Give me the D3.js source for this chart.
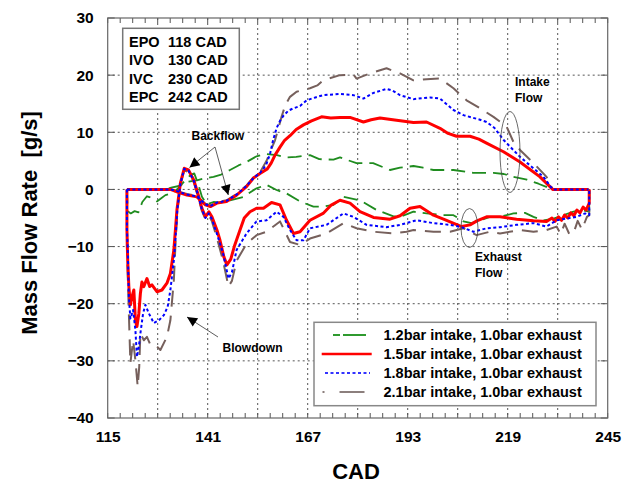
<!DOCTYPE html>
<html>
<head>
<meta charset="utf-8">
<script src="https://cdn.jsdelivr.net/npm/d3@7"></script>
<style>
  body { margin: 0; background: #fff; }
  text { font-family: "Liberation Sans", Arial, sans-serif; font-weight: bold; fill: #000; }
</style>
</head>
<body>
<div id="chart"></div>
<script>
// axis ticks
var xLabels = [115, 141, 167, 193, 219, 245];
var xGrid = [128, 141, 154, 167, 180, 193, 206, 219, 232];
var yLabels = [-40, -30, -20, -10, 0, 10, 20, 30];
var valveTimes = [["EPO", "118 CAD"], ["IVO", "130 CAD"], ["IVC", "230 CAD"], ["EPC", "242 CAD"]];
var seriesNames = ["1.2bar intake, 1.0bar exhaust", "1.5bar intake, 1.0bar exhaust",
                   "1.8bar intake, 1.0bar exhaust", "2.1bar intake, 1.0bar exhaust"];

// [CAD, g/s] intake branches
var intake12 = [[120,0],[130,0],[131.5,0.3],[133.5,0.6],[135.6,1.3],[138.2,1.6],[140,1.9],[142.5,2.2],[144.5,2.6],[146.8,3.4],[149,4.2],[151.1,4.8],[153.7,5.8],[156.3,6.2],[159,6.0],[161.5,5.6],[164,5.7],[167.6,6.0],[170,5.3],[173.7,5.2],[175.4,5.6],[177.5,5.1],[179.7,4.6],[184,4.6],[188.4,3.4],[191,3.8],[194.5,4.1],[197,3.8],[199.7,3.4],[204.9,3.4],[210,2.9],[215.3,2.9],[218,2.7],[220.5,2.2],[224,1.7],[227,1.0],[230.7,0],[240,0]];
var intake15 = [[120,0],[131.3,0],[133,-0.4],[135.6,-1.0],[138.2,-1.3],[140.4,-2.7],[141.7,-3.0],[143.4,-2.4],[145.9,-2.1],[148.5,-1.0],[151.1,0.5],[152.9,2.0],[154.6,2.8],[156.5,3.6],[157.5,4.6],[158.5,6.0],[159.8,7.4],[161,8.6],[162.4,9.4],[164,10.5],[165.9,11.3],[168,12.0],[170.6,12.7],[173,12.5],[175.4,12.6],[178,12.6],[181.5,11.8],[183.5,12.2],[185.8,12.5],[190.1,12.1],[194.5,11.7],[197.9,11.8],[201.4,10.7],[203.5,9.8],[205.7,9.3],[209.2,9.3],[211.5,8.8],[213.5,8.1],[217.9,6.6],[222.2,4.8],[227.4,2.2],[230.7,0],[240,0]];
var intake18 = [[120,0],[131.3,0],[133,-0.3],[135.6,-0.9],[138.2,-1.2],[140.4,-2.6],[141.7,-2.9],[143.4,-2.3],[145.9,-2.0],[148.5,-0.9],[151.1,0.6],[152.9,2.0],[154.6,2.9],[155.5,3.6],[156.3,4.5],[157.2,6.2],[158,8.6],[158.9,10.7],[159.8,12.0],[160.7,12.9],[162,13.8],[163.3,14.2],[165,14.6],[166.7,15.6],[169,16.1],[171,16.5],[175.4,16.7],[178.9,16.5],[181.5,15.9],[184.1,16.9],[187.5,17.6],[189,17.3],[191,16.5],[194.5,15.8],[198.8,16.1],[201.4,15.9],[204.9,13.9],[207.5,13.0],[211.8,12.2],[213.5,11.8],[215.5,10.8],[218,8.6],[222.2,5.7],[228.3,2.2],[230.7,0],[240,0]];
var intake21 = [[120,0],[131.3,0],[133,-0.3],[135.6,-0.8],[138.2,-1.1],[140.4,-2.5],[141.7,-2.8],[143.4,-2.2],[145.9,-1.9],[148.5,-0.8],[151.1,0.7],[152.9,2.1],[154.6,3.0],[156.3,5.0],[157.5,7.0],[158.5,8.6],[160.2,12.7],[161.2,14.8],[162.4,16.2],[164.1,17.1],[167.6,17.7],[169.5,18.2],[171,19.1],[175.4,20.0],[178.9,20.1],[179.7,19.4],[183.2,20.3],[187.5,21.2],[191,20.3],[194.5,19.1],[197.9,19.3],[201.4,19.4],[204.9,17.7],[208.3,15.6],[211.8,14.2],[215.3,12.7],[218.7,11.0],[220.5,8.3],[222.2,6.9],[225.7,4.6],[229.1,2.2],[230.7,0],[240,0]];

// [CAD, g/s] exhaust branches
var exhaust12 = [[120,0],[120.2,-3.8],[121,-4.2],[122,-3.8],[123,-4.0],[124,-2.2],[125.2,-1.2],[126.5,-1.5],[127.8,-2.1],[129,-1.5],[130,-1.0],[132,-0.6],[133.5,0.3],[135,1.5],[136.5,2.5],[137.5,2.8],[138.5,1.0],[139.5,-1.3],[140.8,-2.6],[142.5,-2.2],[144.5,-2.3],[146.8,-1.9],[150.3,-1.3],[153.7,0.2],[156.3,0.8],[158.9,-0.1],[161.5,-0.7],[165,-2.1],[168.5,-3.0],[171,-3.0],[173.7,-2.7],[176.3,-1.3],[180.6,-1.9],[184.9,-3.6],[189.3,-4.7],[191,-4.8],[194.5,-3.9],[197.9,-4.2],[202.3,-4.5],[204.9,-4.5],[207.5,-5.6],[209.6,-5.9],[211.8,-5.4],[214.4,-4.8],[217,-4.8],[220.5,-4.2],[223.5,-4.1],[225.7,-4.8],[228.3,-5.4],[230.9,-5.1],[233.5,-4.5],[236.1,-3.9],[238.3,-3.6],[240.2,-3.9],[240.2,0]];
var exhaust15 = [[120,0],[120,-7],[120.2,-12.4],[120.5,-17],[120.9,-20.2],[121.3,-18.8],[121.8,-17.6],[122.2,-22.9],[122.6,-24.0],[123.1,-21.7],[123.5,-18.2],[123.9,-16.2],[124.4,-17.0],[125.2,-15.6],[125.9,-17.0],[126.5,-16.7],[127.8,-17.9],[129.1,-17.6],[130.4,-16.4],[131.3,-14.7],[132.2,-10.6],[132.6,-7.1],[133,-3.6],[133.9,1.1],[134.9,3.7],[136,3.4],[137.4,1.6],[138.7,-1.3],[139.5,-3.3],[140.4,-4.8],[141.3,-3.9],[142.1,-4.8],[143.4,-7.1],[144.2,-8.9],[145.2,-11.8],[146,-13.2],[147,-12.2],[148,-9.8],[149.4,-7.1],[150.5,-5.0],[152,-3.9],[153.7,-3.3],[155.5,-3.3],[157.6,-2.3],[159.8,-2.7],[161.5,-5.4],[163.3,-7.7],[165,-7.4],[167.6,-5.4],[171,-4.2],[173,-2.8],[175.4,-1.9],[178,-2.4],[180.6,-3.9],[184.1,-4.9],[188.4,-5.2],[191,-4.6],[193.6,-3.3],[196.2,-3.0],[199.7,-4.5],[203.1,-5.4],[207,-6.5],[209.2,-6.2],[211,-5.5],[213.5,-4.8],[217,-4.8],[221.3,-5.2],[225.7,-5.5],[229.1,-5.6],[230.5,-5.0],[231.3,-5.6],[232.2,-4.8],[233,-5.4],[233.8,-4.5],[234.6,-5.0],[235.4,-4.1],[236.2,-4.6],[237,-3.6],[237.8,-4.1],[238.6,-3.1],[239.4,-3.6],[240.2,-2.4],[240.2,0]];
var exhaust18 = [[120,0],[120,-7],[120.2,-10],[120.5,-18.8],[120.9,-22.6],[121.6,-21.1],[122.2,-24.6],[122.6,-29.3],[123.1,-27.5],[123.5,-25.2],[124.2,-21.7],[124.8,-20.2],[125.7,-21.7],[127,-23.4],[128.3,-22.9],[129.6,-22.0],[130.6,-20.5],[131.3,-17.6],[132.2,-12.4],[132.6,-8.9],[133.1,-3.6],[133.9,1.0],[134.9,3.6],[136,3.3],[137.4,1.5],[138.7,-1.5],[139.5,-3.5],[140.4,-5.0],[141.3,-4.2],[142.1,-5.2],[143.4,-7.8],[145,-11.2],[146.4,-15.6],[147.3,-14.5],[148.5,-10.6],[151.1,-7.7],[153.7,-5.6],[156.3,-5.4],[158.9,-3.9],[160.7,-4.8],[162.4,-7.1],[164.1,-8.9],[165.9,-8.9],[167.6,-6.8],[171.9,-6.2],[176.3,-4.2],[178.9,-4.8],[182.3,-6.2],[187.5,-6.6],[191,-6.2],[195.3,-5.4],[199.7,-5.9],[204,-6.2],[207,-6.6],[210.1,-7.4],[213.5,-6.8],[217,-6.6],[221.3,-6.2],[225.7,-5.9],[229.1,-6.5],[231.7,-5.4],[234.3,-5.1],[236.9,-4.8],[239.1,-4.2],[240.2,-4.5],[240.2,0]];
var exhaust21 = [[120,0],[120,-10],[120.5,-21.7],[120.9,-30.4],[121.6,-26.4],[122.2,-29.9],[122.8,-34.5],[123.2,-31],[123.5,-25.2],[124.4,-26.4],[125.2,-25.8],[126.1,-27.2],[127.4,-27.2],[128.7,-28.1],[130.4,-25.8],[131.3,-22.9],[132.2,-15.9],[132.6,-10],[133.1,-4],[133.9,0.8],[134.9,3.4],[136,3.0],[137.4,1.2],[138.7,-1.8],[139.5,-3.8],[140.4,-5.2],[141.3,-4.5],[142.1,-5.6],[143.4,-8.5],[145,-12.5],[146.4,-17.0],[147.3,-16.0],[148.5,-12.5],[151.1,-9.5],[153.7,-8.0],[156.3,-7.4],[159.8,-5.6],[162.4,-9.2],[165,-9.7],[167.6,-8.6],[171.9,-7.7],[176.3,-5.9],[179.7,-6.8],[184.1,-7.4],[189.3,-7.7],[192.7,-7.4],[194.5,-7.1],[199.7,-7.4],[204,-7.4],[207.5,-6.8],[210.9,-8.0],[214.4,-7.4],[217,-7.7],[222.2,-7.1],[225.7,-7.4],[229.1,-7.1],[231.7,-6.5],[232.8,-7.8],[233.8,-6.0],[235,-7.8],[236.1,-7.7],[237.2,-5.5],[238.3,-7.0],[239.6,-4.8],[240.2,-4.5],[240.2,0]];

var width = 634, height = 487;
var plot = {left: 107.7, right: 607.7, top: 18, bottom: 418};

var svg = d3.select('#chart').append('svg')
    .attr('width', width)
    .attr('height', height);

var x = d3.scaleLinear().domain([115, 245]).range([plot.left, plot.right]);
var y = d3.scaleLinear().domain([-40, 30]).range([plot.bottom, plot.top]);

// Grid lines
var grid = svg.append('g').attr('stroke', '#555').attr('stroke-width', 1).attr('stroke-dasharray', '2,3');
grid.selectAll('line.vx').data(xGrid).enter().append('line')
    .attr('x1', function(d) { return x(d); }).attr('x2', function(d) { return x(d); })
    .attr('y1', plot.top).attr('y2', plot.bottom);
grid.selectAll('line.hy').data(yLabels.slice(1, -1)).enter().append('line')
    .attr('x1', plot.left).attr('x2', plot.right)
    .attr('y1', function(d) { return y(d); }).attr('y2', function(d) { return y(d); });

// Inward ticks on all four sides
var minorX = d3.range(0, 41).map(function(i) { return 115 + i * 3.25; });
var ticks = svg.append('g').attr('stroke', '#555').attr('stroke-width', 1);
ticks.selectAll('line.tb').data(minorX).enter().append('line')
    .attr('x1', function(d) { return x(d); }).attr('x2', function(d) { return x(d); })
    .attr('y1', plot.bottom).attr('y2', plot.bottom - 5);
ticks.selectAll('line.tt').data(minorX).enter().append('line')
    .attr('x1', function(d) { return x(d); }).attr('x2', function(d) { return x(d); })
    .attr('y1', plot.top).attr('y2', plot.top + 5);
ticks.selectAll('line.tl').data(yLabels).enter().append('line')
    .attr('x1', plot.left).attr('x2', plot.left + 7)
    .attr('y1', function(d) { return y(d); }).attr('y2', function(d) { return y(d); });
ticks.selectAll('line.tr').data(yLabels).enter().append('line')
    .attr('x1', plot.right).attr('x2', plot.right - 7)
    .attr('y1', function(d) { return y(d); }).attr('y2', function(d) { return y(d); });

// Axes (labels only)
var xAxis = d3.axisBottom(x).tickValues(xLabels).tickSize(0).tickPadding(13);
var gx = svg.append('g').attr('transform', 'translate(0,' + plot.bottom + ')').call(xAxis);
gx.select('.domain').remove();
gx.selectAll('text').style('font-size', '15.5px').style('font-family', '"Liberation Sans", Arial, sans-serif').style('font-weight', 'bold');

var yAxis = d3.axisLeft(y).tickValues(yLabels).tickSize(0).tickPadding(14);
var gy = svg.append('g').attr('transform', 'translate(' + plot.left + ',0)').call(yAxis);
gy.select('.domain').remove();
gy.selectAll('text').style('font-size', '15.5px').style('font-family', '"Liberation Sans", Arial, sans-serif').style('font-weight', 'bold');

// Frame
svg.append('rect')
    .attr('x', plot.left).attr('y', plot.top)
    .attr('width', plot.right - plot.left).attr('height', plot.bottom - plot.top)
    .attr('fill', 'none').attr('stroke', '#666').attr('stroke-width', 1.2);

// Axis titles
svg.append('text')
    .attr('transform', 'translate(37,223) rotate(-90)')
    .attr('text-anchor', 'middle')
    .style('font-size', '22px')
    .style('white-space', 'pre')
    .text('Mass Flow Rate  [g/s]');
svg.append('text')
    .attr('x', 356).attr('y', 479)
    .attr('text-anchor', 'middle')
    .style('font-size', '22px')
    .text('CAD');

// Series styles
var styles = [
    {color: '#1f8c1f', width: 1.8, dash: '14,7'},
    {color: '#ff0000', width: 3, dash: null},
    {color: '#0000ff', width: 2, dash: '3,2.5'},
    {color: '#76605c', width: 2, dash: '16,9'}
];
var intakes = [intake12, intake15, intake18, intake21];
var exhausts = [exhaust12, exhaust15, exhaust18, exhaust21];

var line = d3.line()
    .x(function(d) { return x(d[0]); })
    .y(function(d) { return y(d[1]); });

var curves = svg.append('g').attr('fill', 'none').attr('stroke-linejoin', 'round');
[0, 3, 1, 2].forEach(function(i) {
    [intakes[i], exhausts[i]].forEach(function(data) {
        curves.append('path')
            .datum(data)
            .attr('d', line)
            .attr('stroke', styles[i].color)
            .attr('stroke-width', styles[i].width)
            .attr('stroke-dasharray', styles[i].dash);
    });
});

// Valve timing table
var table = svg.append('g');
table.append('rect')
    .attr('x', 122.7).attr('y', 28.3).attr('width', 116.6).attr('height', 81)
    .attr('fill', '#fff').attr('stroke', '#777').attr('stroke-width', 1.5);
valveTimes.forEach(function(row, i) {
    table.append('text').attr('x', 129).attr('y', 47 + i * 18.3).style('font-size', '14.5px').text(row[0]);
    table.append('text').attr('x', 168).attr('y', 47 + i * 18.3).style('font-size', '14.5px').text(row[1]);
});

// Legend
var legend = svg.append('g');
legend.append('rect')
    .attr('x', 314).attr('y', 322.3).attr('width', 282).attr('height', 83.4)
    .attr('fill', '#fff').attr('stroke', '#888').attr('stroke-width', 1.5);
var legendSamples = [
    {x1: 333, x2: 366, dash: '7,3,23,100'},
    {x1: 321.7, x2: 371.7, dash: null},
    {x1: 325, x2: 370, dash: '3,2.5'},
    {x1: 322.5, x2: 366, dash: '2,15,25,100'}
];
var legendColors = ['#2f9a2f', '#ff0000', '#3333ff', '#8c7f7d'];
seriesNames.forEach(function(name, i) {
    var ly = 335 + i * 19;
    legend.append('line')
        .attr('x1', legendSamples[i].x1).attr('x2', legendSamples[i].x2)
        .attr('y1', ly).attr('y2', ly)
        .attr('stroke', legendColors[i])
        .attr('stroke-width', i === 1 ? 2.5 : 2)
        .attr('stroke-dasharray', legendSamples[i].dash);
    legend.append('text')
        .attr('x', 383.5).attr('y', ly).attr('dy', '0.36em')
        .style('font-size', '14.5px')
        .text(name);
});

// Annotations
var defs = svg.append('defs');
defs.append('marker')
    .attr('id', 'arrow')
    .attr('viewBox', '0 0 10 10')
    .attr('refX', 10).attr('refY', 5)
    .attr('markerWidth', 14).attr('markerHeight', 10)
    .attr('markerUnits', 'userSpaceOnUse')
    .attr('orient', 'auto')
    .append('path').attr('d', 'M0,0 L10,5 L0,10 z').attr('fill', '#000');

var notes = svg.append('g');
function arrow(x1, y1, x2, y2) {
    notes.append('line')
        .attr('x1', x1).attr('y1', y1).attr('x2', x2).attr('y2', y2)
        .attr('stroke', '#333').attr('stroke-width', 0.8)
        .attr('marker-end', 'url(#arrow)');
}
arrow(215, 147, 189.5, 167.5);
arrow(215, 147, 228.3, 195);
arrow(218, 337, 187, 317);

notes.append('text').attr('x', 191.5).attr('y', 139.5).style('font-size', '12px').text('Backflow');
notes.append('text').attr('x', 222.5).attr('y', 352).style('font-size', '12px').text('Blowdown');
notes.append('text').attr('x', 515).attr('y', 86).style('font-size', '12px').text('Intake');
notes.append('text').attr('x', 515).attr('y', 102).style('font-size', '12px').text('Flow');
notes.append('text').attr('x', 475).attr('y', 261).style('font-size', '12px').text('Exhaust');
notes.append('text').attr('x', 475).attr('y', 277).style('font-size', '12px').text('Flow');

notes.append('ellipse')
    .attr('cx', 510).attr('cy', 152).attr('rx', 10).attr('ry', 40.5)
    .attr('fill', 'none').attr('stroke', '#444').attr('stroke-width', 0.8);
notes.append('ellipse')
    .attr('cx', 469.5).attr('cy', 228).attr('rx', 8.5).attr('ry', 19.5)
    .attr('fill', 'none').attr('stroke', '#444').attr('stroke-width', 0.8);
</script>
</body>
</html>
